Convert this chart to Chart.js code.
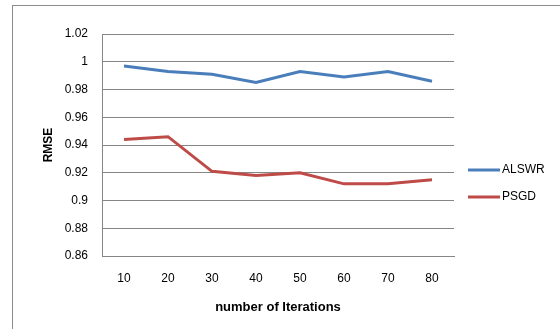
<!DOCTYPE html>
<html>
<head>
<meta charset="utf-8">
<script src="https://cdn.jsdelivr.net/npm/chart.js@4/dist/chart.umd.min.js"></script>
<style>
  html, body { margin: 0; padding: 0; background: #fff; }
  #wrap { width: 560px; height: 329px; position: relative; }
</style>
</head>
<body>
<div id="wrap"><canvas id="c" width="560" height="329"></canvas></div>
<script>
// Iteration counts on the x axis
const iterations = ['10', '20', '30', '40', '50', '60', '70', '80'];
// RMSE per iteration count
const alswr = [0.997, 0.993, 0.991, 0.985, 0.993, 0.989, 0.993, 0.986];
const psgd  = [0.944, 0.946, 0.921, 0.918, 0.920, 0.912, 0.912, 0.915];
const seriesNames = ['ALSWR', 'PSGD'];
const yMin = 0.86, yMax = 1.02, yStep = 0.02;

const gridColor = '#868686';
const fontFamily = '"Liberation Sans", Arial, sans-serif';

// Outer frame around the whole chart
const framePlugin = {
  id: 'frame',
  beforeDraw(chart) {
    const ctx = chart.ctx;
    ctx.save();
    ctx.strokeStyle = '#8c8c8c';
    ctx.lineWidth = 1;
    ctx.strokeRect(12.5, 5.5, 600, 400);
    ctx.restore();
  }
};

// Legend on the right: short line sample followed by the series name
const sideLegend = {
  id: 'sideLegend',
  afterDraw(chart) {
    const ctx = chart.ctx;
    const x0 = 468, x1 = 500, rowY = [170, 197];
    ctx.save();
    chart.data.datasets.forEach((ds, i) => {
      const y = rowY[i];
      ctx.strokeStyle = ds.borderColor;
      ctx.lineWidth = 3;
      ctx.beginPath();
      ctx.moveTo(x0, y);
      ctx.lineTo(x1, y);
      ctx.stroke();
      ctx.fillStyle = '#000';
      ctx.font = '12px ' + fontFamily;
      ctx.textBaseline = 'middle';
      ctx.textAlign = 'left';
      ctx.fillText(ds.label, x1 + 2, y);
    });
    ctx.restore();
  }
};

new Chart(document.getElementById('c'), {
  type: 'line',
  data: {
    labels: iterations,
    datasets: [
      { label: seriesNames[0], data: alswr, borderColor: '#4A7EBB', backgroundColor: '#4A7EBB' },
      { label: seriesNames[1], data: psgd,  borderColor: '#BE4B48', backgroundColor: '#BE4B48' }
    ]
  },
  options: {
    responsive: false,
    animation: false,
    layout: { padding: { left: 0, top: 34, right: 106, bottom: 0 } },
    elements: {
      line: { borderWidth: 3, tension: 0, borderCapStyle: 'butt' },
      point: { radius: 0, hoverRadius: 0 }
    },
    plugins: {
      legend: { display: false },
      tooltip: { enabled: false }
    },
    scales: {
      x: {
        offset: true,
        grid: { display: false, drawTicks: false },
        border: { display: true, color: gridColor, width: 1 },
        ticks: { color: '#000', font: { family: fontFamily, size: 12 }, padding: 15, maxRotation: 0 },
        title: {
          display: true, text: 'number of Iterations', color: '#000',
          font: { family: fontFamily, size: 13, weight: 'bold' },
          padding: { top: 0, bottom: 14 }
        },
        afterFit(scale) { scale.height = 73; }
      },
      y: {
        min: yMin, max: yMax,
        grid: { color: gridColor, lineWidth: 1, drawTicks: false },
        border: { display: true, color: gridColor, width: 1 },
        ticks: {
          stepSize: yStep, color: '#000', padding: 14,
          font: { family: fontFamily, size: 12 },
          callback: v => String(Number(v.toFixed(2)))
        },
        title: {
          display: true, text: 'RMSE', color: '#000',
          font: { family: fontFamily, size: 12, weight: 'bold' },
          padding: { top: 41, bottom: 0 }
        },
        afterFit(scale) { scale.width = 102; }
      }
    }
  },
  plugins: [framePlugin, sideLegend]
});
</script>
</body>
</html>
